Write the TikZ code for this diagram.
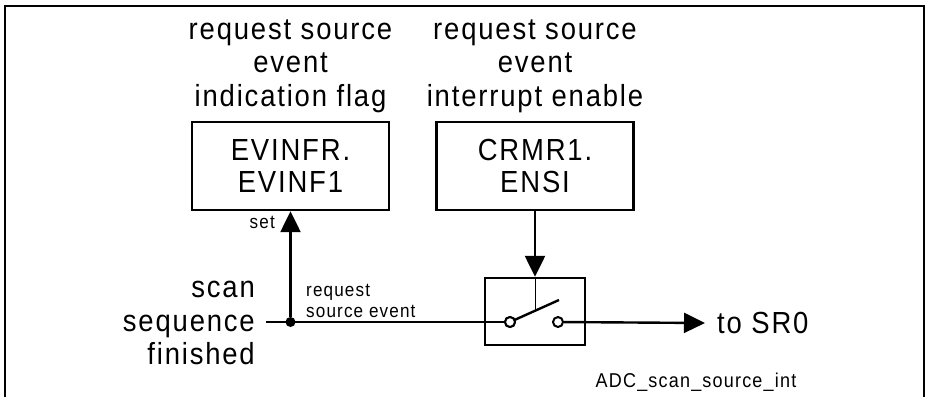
\documentclass[tikz,border=0pt]{standalone}
\usepackage{fontspec}
\usetikzlibrary{arrows.meta,calc}
\newfontfamily\arl{Liberation Sans}[LetterSpace=6,FakeStretch=0.9]
\tikzset{
  big/.style={font=\arl\fontsize{30.5}{33.5}\selectfont, inner sep=0pt, align=center},
  small/.style={font=\arl\fontsize{19}{21}\selectfont, inner sep=0pt},
  regbox/.style={draw, line width=2.4pt, minimum width=197pt, minimum height=88pt, inner sep=0pt, align=center, font=\arl\fontsize{30.5}{32}\selectfont},
  wire/.style={line width=2.4pt},
  arr/.style={wire, -{Triangle[length=21pt,width=20pt]}},
  contact/.style={circle, draw, line width=2pt, fill=white, minimum size=10pt, inner sep=0pt},
}
\begin{document}
\begin{tikzpicture}[x=1pt,y=-1pt]
\useasboundingbox (0,0) rectangle (927,397);
% frame
\coordinate (fbl) at (5,397);
\coordinate (ftl) at (5,6);
\coordinate (ftr) at (924,6);
\coordinate (fbr) at (924,397);
\draw[line width=2.6pt] (fbl) -- (ftl) -- (ftr) -- (fbr);
% titles
\node[big] (t1) at (290.5,66) {request source\\event\\indication flag};
\node[big] (t2) at (535,66) {request source\\event\\interrupt enable};
% register boxes
\node[regbox] (box1) at (290.5,166) {EVINFR.\\EVINF1};
\node[regbox] (box2) at (535,166) {CRMR1.\\ENSI};
% switch box
\node[draw, line width=2.4pt, minimum width=100pt, minimum height=67pt, inner sep=0pt] (sw) at (535,311.5) {};
\node[contact] (lc) at (510,322) {};
\node[contact] (rc) at (558,322) {};
\coordinate (lev) at (559,300);
\coordinate (levmid) at (535,311.5);
% labels
\node[big, anchor=east, align=right] (scan) at (255,323) {scan\\sequence\\finished};
\node[small, anchor=east] (set) at (275,222) {set};
\node[small, anchor=west, align=left] (rse) at (306,301) {request\\source event};
\node[big, anchor=west] (sr0) at (717,323) {to SR0};
\node[small, font=\arl\fontsize{20}{20}\selectfont] (adc) at (696,382) {ADC\_scan\_source\_int};
% dot
\node[circle, fill=black, minimum size=10pt, inner sep=0pt] (dot) at (290.5,322) {};
\coordinate (win) at (266,322);
% wires
\draw[wire] (win) -- (lc);
\draw[arr] (dot) -- (box1.south);
\draw[arr] (box2.south) -- (sw.north);
\draw[line width=1pt] (sw.north) -- (levmid);
\draw[wire] (lc.center) -- (lev);
\node[contact] at (lc) {};
\draw[arr] (rc) -- (sr0.west -| 705,0);
\end{tikzpicture}
\end{document}
